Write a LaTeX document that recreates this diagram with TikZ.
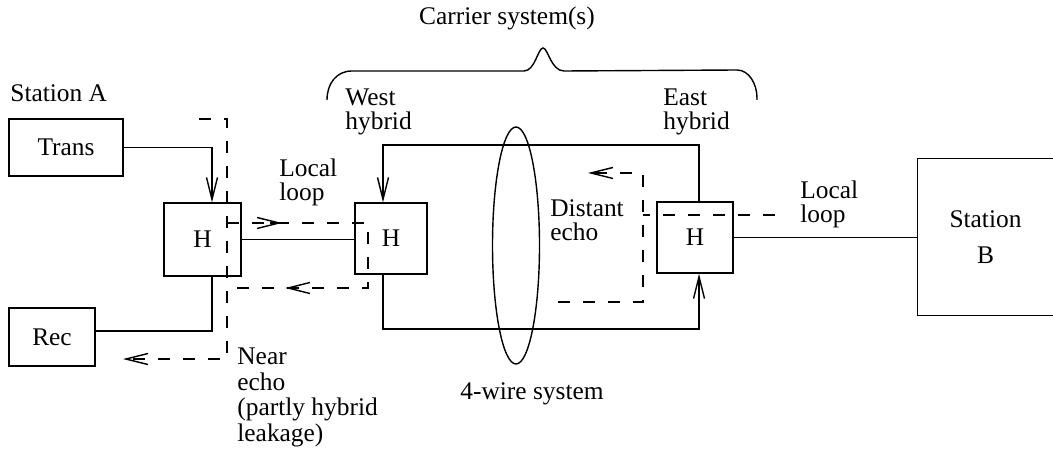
\documentclass[tikz,border=0pt]{standalone}
\usepackage{fontspec}
\setmainfont{Liberation Serif}
\usetikzlibrary{arrows.meta}
\begin{document}
\begin{tikzpicture}[x=0.5pt,y=-0.5pt,
  every node/.style={font=\fontsize{12.7}{12}\selectfont},
  box/.style={draw,line width=0.7pt,inner sep=0pt},
  wire/.style={line width=0.7pt},
  tip/.style={-{Straight Barb[length=11pt,width=5.5pt]}},
  arr/.style={wire,tip},
  echo/.style={wire,dash pattern=on 6pt off 6.5pt},
  lbl/.style={align=left,anchor=west,inner sep=0pt}]
\useasboundingbox (0,0) rectangle (1053,459);

% boxes
\node[box,minimum width=57pt,minimum height=28.5pt] (trans) at (66,147.5) {Trans};
\node[box,minimum width=43pt,minimum height=29pt] (rec) at (52,337) {Rec};
\node[box,minimum width=38.5pt,minimum height=36.5pt] (h1) at (202.5,239.5) {H};
\node[box,minimum width=36pt,minimum height=35.5pt] (hw) at (391,238.5) {H};
\node[box,minimum width=38pt,minimum height=35.5pt] (he) at (695,237.5) {H};
\node[inner sep=0pt,minimum width=67.5pt,minimum height=78pt,align=center] (stb) at (985.5,237) {Station\\[6pt]B};
\draw[wire] (stb.north east) -- (stb.north west) -- (stb.south west) -- (stb.south east);

% labels
\node[lbl] (stA) at (10,93) {Station A};
\node (carrier) at (507,18) {Carrier system(s)};
\node[lbl] (west) at (345,111.5) {West\\hybrid};
\node[lbl] (east) at (663,111.5) {East\\hybrid};
\node[lbl] (ll1) at (279,182.5) {Local\\loop};
\node[lbl] (ll2) at (800,204) {Local\\loop};
\node[lbl] (dist) at (550,220) {Distant\\echo};
\node[lbl,font=\fontsize{12.7}{12.8}\selectfont] (near) at (237,397.5) {Near\\echo\\(partly hybrid\\leakage)};
\node (four) at (532,394) {4-wire system};

% solid connectors
\draw[arr] (trans.east) -| ([xshift=4.75pt]h1.north);
\draw[wire] ([xshift=4.75pt]h1.south) |- ([yshift=3pt]rec.east);
\draw[wire] (h1.east) -- (h1.east -| hw.west);
\draw[wire] (he.east) -- (he.east -| stb.west);
\coordinate (ta) at (699,145);
\coordinate (tb) at (383,145);
\coordinate (ba) at (383,329);
\coordinate (bb) at (699,329);
\draw[arr] ([xshift=2pt]he.north) -- (ta) -- (tb) -- ([xshift=-4pt]hw.north);
\draw[arr] ([xshift=-4pt]hw.south) -- (ba) -- (bb) -- ([xshift=2pt]he.south);

% 4-wire ellipse and brace
\draw[wire] (516,245.5) ellipse [x radius=11.75pt, y radius=59.25pt];
\draw[wire] (327,100) .. controls (327,84) and (336,71) .. (352,71) -- (524,71)
  .. controls (535,71) and (538,48) .. (543,48)
  .. controls (548,48) and (551,71) .. (564,71) -- (737,70)
  .. controls (749,70) and (757,84) .. (757,98) -- (757,100);

% near echo paths
\coordinate (e1) at (199,119);
\coordinate (e2) at (227,119);
\coordinate (e3) at (227,359);
\coordinate (e4) at (123,359);
\draw[echo,tip] (e1) -- (e2) -- (e3) -- (e4);
\coordinate (f1) at (227,223);
\coordinate (f2) at (282,223);
\coordinate (f2b) at (270,223);
\coordinate (f3) at (368,223);
\coordinate (f4) at (368,288);
\coordinate (f5) at (285,288);
\coordinate (f5b) at (297,288);
\coordinate (f6) at (227,288);
\draw[echo] (f1) -- (f3) -- (f4) -- (f6);
\draw[arr] (f2b) -- (f2);
\draw[arr] (f5b) -- (f5);

% distant echo paths
\coordinate (g1) at (775,215);
\coordinate (g2) at (643,215);
\draw[echo] (g1) -- (g2);
\coordinate (k1) at (558,302);
\coordinate (k2) at (643,302);
\coordinate (k3) at (643,173);
\coordinate (k4) at (588,173);
\draw[echo,tip] (k1) -- (k2) -- (k3) -- (k4);
\end{tikzpicture}
\end{document}
